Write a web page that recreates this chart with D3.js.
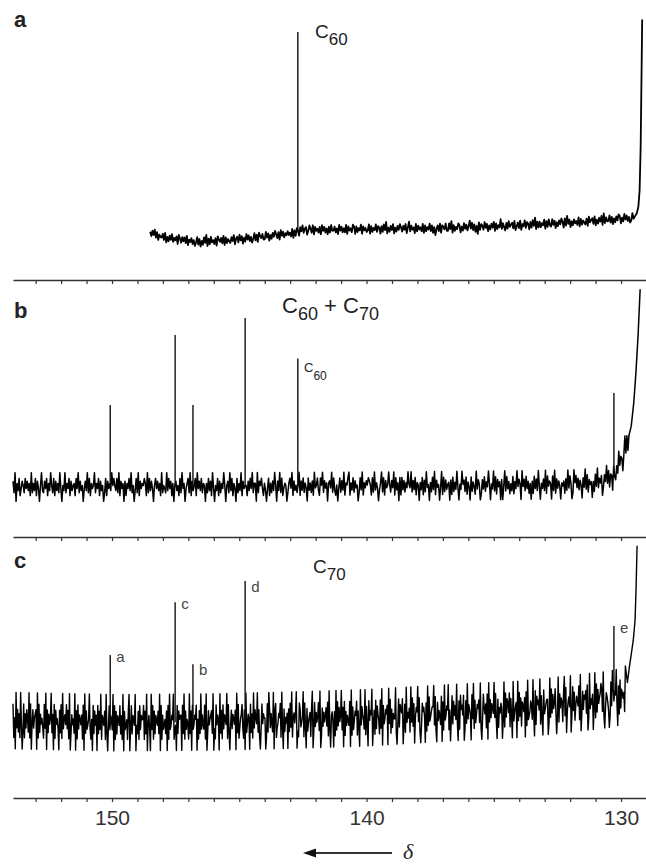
<!DOCTYPE html>
<html><head><meta charset="utf-8">
<script src="https://cdn.jsdelivr.net/npm/d3@7"></script>
<style>body{margin:0;background:#fff}svg{display:block}</style>
</head><body>
<svg id="chart" width="646" height="864"></svg>
<script>
// ---------------- data ----------------
const ppmTicks = d3.range(130, 154);          // minor ticks, 1 ppm apart
const tickLabels = [150, 140, 130];           // labelled ticks on the bottom axis
const noiseLevels = [-10, -6, -4, -2.5, -1, 1, 2.5, 4, 6, 10];
const sampleSteps = [0.045, 0.04, 0.03];      // ppm between noise samples, panels a, b, c

// panel a : C60
const baselineA = [[148.5,3.4],[147.8,0.8],[146.5,-1],[145,0.3],[143.5,2.3],[142.75,3.4],[142.6,4.8],[139,5.4],[136.4,5.8],[133,7.6],[130.5,9.6],[129.5,10.8]];
const riseA = [[129.45,11.5],[129.38,13],[129.32,16],[129.27,24],[129.23,45],[129.2,75],[129.17,106]];
const noiseA = `5364736254 4637253647 3546275364 6372546352 4736253748
2637453627 5463726354 3647256374 6253746352 4736275463
3746253647 5362746354 6453726375 2647356247 5372645362
7463526374 4635274635 3726453762 6354726453 4726354736
5263748253 6472536475 3647258364 5273645372 6354736251
4637265473 3748263547 6253746358 4736251736 5374625364
7263548364 2637456372 4637254736 5263748263 6354726374
3746253647 5273846253 6453726354 3627456372 5364728364
4736253647 6253746352 3746528364`;
const peaksA = [{name:"C60", ppm:142.7, top:100}];

// panel b : C60 + C70
const baselineB = [[153.89,0],[145,0],[138,0.5],[132,1.5],[131,2.5],[130.5,4.5],[130.3,7],[130.0,15],[129.8,24],[129.65,30]];
const riseB = [[129.6,36],[129.5,50],[129.41,69],[129.33,90],[129.25,117]];
const noiseB = `7290638147 5284736192 6381740593 2748163952 8173629405
3926481735 6184927350 4739281645 9264817350 2817463958
5382917460 7164839250 3829174658 6192837405 8473619254
2938471605 7351829460 4682917358 1947382650 6283719405
3817264950 5729381640 8263917455 1738492660 9275841630
4816273950 7392814650 2684917352 5917382640 8362719458
3185927460 6749283150 4827391658 9163827450 2839164758
7518293640 3692817459 5274918360 8183726495 4927381650
6381729450 6283917450 4918273560 7182639405 3957281640
8264193750 1738264950 5392817460 7049283615 2816394750
9472836150 6183729405 3729184650 8291736405 4617293850
1958372640 7392816450 5183926470 2749381650 8316294750
4928163750`;
const peaksB = [
  {name:"a", ppm:150.07, top:48.5},
  {name:"c", ppm:147.52, top:90},
  {name:"b", ppm:146.82, top:48.5},
  {name:"d", ppm:144.77, top:100},
  {name:"C60", ppm:142.7, top:76},
  {name:"e", ppm:130.28, top:55.6}
];

// panel c : C70
const baselineC = [[153.89,1],[150,-0.5],[146,0],[142.6,1.5],[140,3],[136.9,6.4],[134,9],[132.4,12],[130.5,16],[130.0,18],[129.8,20]];
const riseC = [[129.75,28],[129.68,38],[129.6,48],[129.52,58],[129.45,72],[129.41,95],[129.37,125]];
const noiseC = `8150937261 9402816375 2918047356 7091826453 1839072645
9260817453 0728193564 8371902645 2907183654 6180927345
9315082746 0827391654 7192048365 3908172654 8261907345
1790382654 9042718365 5817290463 0938172654 7290816345
2708193465 9134082756 6082917354 1927083465 8051729364
3819027456 7290318465 0927183654 9182047365 4709281356
8317092465 0826193754 9271038465 5018297364 2907813465
8193072546 0728391564 6902187345 9183072456 1790283645
8290173645 7381920564 0619283745 9270816354 3809172465
8162093754 2917308465 9036182754 1829073465 7093816254
4910382765 8027193546 1938270465 9381027564 0719283456
6928107354 2807193465 9150382746 3920718564 8017293654
0839172465 7291038546 1809273654 9382071546 5029183764
8173092456 0928371654 7081923465 2930817564 9172083456
6019283745 8302917465 1792803564 9028371465 4819027365
7280193546 0391827456 8729103654 2018397465 9307182654
5190283746`;
const peaksC = [
  {name:"a", ppm:150.07, top:47.5},
  {name:"c", ppm:147.52, top:85},
  {name:"b", ppm:146.82, top:41},
  {name:"d", ppm:144.77, top:100},
  {name:"e", ppm:130.28, top:68}
];

// ---------------- drawing ----------------
const svg = d3.select("#chart");
const FONT = "'Liberation Sans', Arial, Helvetica, sans-serif";
const x = d3.scaleLinear().domain([153.89, 129.02]).range([13, 646]);

const panels = [
  {baseline:baselineA, rise:riseA, noise:noiseA, peaks:peaksA, step:sampleSteps[0], y0:240, y100:32, k:0.55, lw:1.8, labelPeaks:false},
  {baseline:baselineB, rise:riseB, noise:noiseB, peaks:peaksB, step:sampleSteps[1], y0:487, y100:318, k:0.85, lw:1.5, labelPeaks:false},
  {baseline:baselineC, rise:riseC, noise:noiseC, peaks:peaksC, step:sampleSteps[2], y0:722, y100:581, k:2.0, lw:1.4, labelPeaks:true}
];

panels.forEach(p => {
  const y = d3.scaleLinear().domain([0, 100]).range([p.y0, p.y100]);
  const base = d3.scaleLinear().domain(p.baseline.map(d => d[0])).range(p.baseline.map(d => d[1])).clamp(true);
  const digits = p.noise.replace(/\s/g, "");
  const start = p.baseline[0][0], end = p.baseline[p.baseline.length-1][0];
  const pts = [];
  for (let i = 0; i < digits.length; i++) {
    const ppm = start - i * p.step;
    if (ppm < end) break;
    pts.push([ppm, base(ppm) + noiseLevels[+digits[i]] * p.k]);
  }
  p.rise.forEach(d => pts.push(d));
  const line = d3.line().x(d => x(d[0])).y(d => y(d[1]));
  svg.append("path").attr("d", line(pts)).attr("fill", "none")
    .attr("stroke", "#000").attr("stroke-width", p.lw).attr("stroke-linejoin", "round");
  // peaks
  svg.append("g").selectAll("line").data(p.peaks).join("line")
    .attr("x1", d => x(d.ppm)).attr("x2", d => x(d.ppm))
    .attr("y1", d => y(base(d.ppm))).attr("y2", d => y(d.top))
    .attr("stroke", "#111").attr("stroke-width", 1.4);
  if (p.labelPeaks) {
    svg.append("g").selectAll("text").data(p.peaks).join("text")
      .attr("x", d => x(d.ppm) + 6)
      .attr("y", d => y(d.top) + (["b","d"].includes(d.name) ? 11 : 7))
      .attr("font-family", FONT).attr("font-size", 15).attr("fill", "#444")
      .text(d => d.name);
  }
});

// axes
[280, 537, 798].forEach((ay, i) => {
  const axis = d3.axisBottom(x).tickValues(ppmTicks).tickSize(4).tickSizeOuter(0).tickPadding(8)
    .tickFormat(d => (i === 2 && tickLabels.includes(d)) ? d : "");
  const g = svg.append("g").attr("transform", `translate(0,${ay})`).call(axis);
  g.select(".domain").attr("stroke", "#333").attr("stroke-width", 1.6);
  g.selectAll(".tick line").attr("stroke", "#333").attr("stroke-width", 1.2);
  g.selectAll(".tick text").attr("font-family", FONT).attr("font-size", 21).attr("fill", "#333");
});

// panel letters
[["a", 27], ["b", 318], ["c", 568]].forEach(([t, by]) => {
  svg.append("text").attr("x", 14).attr("y", by).attr("font-family", FONT)
    .attr("font-size", 22).attr("font-weight", "bold").attr("fill", "#222").text(t);
});

// titles with subscripts
function formula(xp, yp, parts, size, subSize, drop) {
  const t = svg.append("text").attr("x", xp).attr("y", yp).attr("font-family", FONT)
    .attr("fill", "#222").attr("font-size", size);
  let down = false;
  parts.forEach(([s, sub]) => {
    const ts = t.append("tspan").text(s);
    if (sub && !down) { ts.attr("dy", drop).attr("font-size", subSize); down = true; }
    else if (!sub && down) { ts.attr("dy", -drop); down = false; }
    else if (sub) ts.attr("font-size", subSize);
  });
}
formula(315, 38, [["C",false],["60",true]], 19, 17, 7);
formula(282, 313, [["C",false],["60",true],[" + C",false],["70",true]], 22, 18, 7);
formula(304, 372, [["C",false],["60",true]], 13, 12, 8);
formula(313, 573, [["C",false],["70",true]], 19, 17, 7);

// arrow and delta
svg.append("line").attr("x1", 311).attr("x2", 392).attr("y1", 853).attr("y2", 853)
  .attr("stroke", "#333").attr("stroke-width", 1.8);
svg.append("path").attr("d", "M303,853L316,848.5L316,857.5Z").attr("fill", "#111");
svg.append("text").attr("x", 403).attr("y", 859).attr("font-family", "'Liberation Serif', 'DejaVu Serif', serif")
  .attr("font-style", "italic").attr("font-size", 22).attr("fill", "#222").text("δ");
</script>
</body></html>
